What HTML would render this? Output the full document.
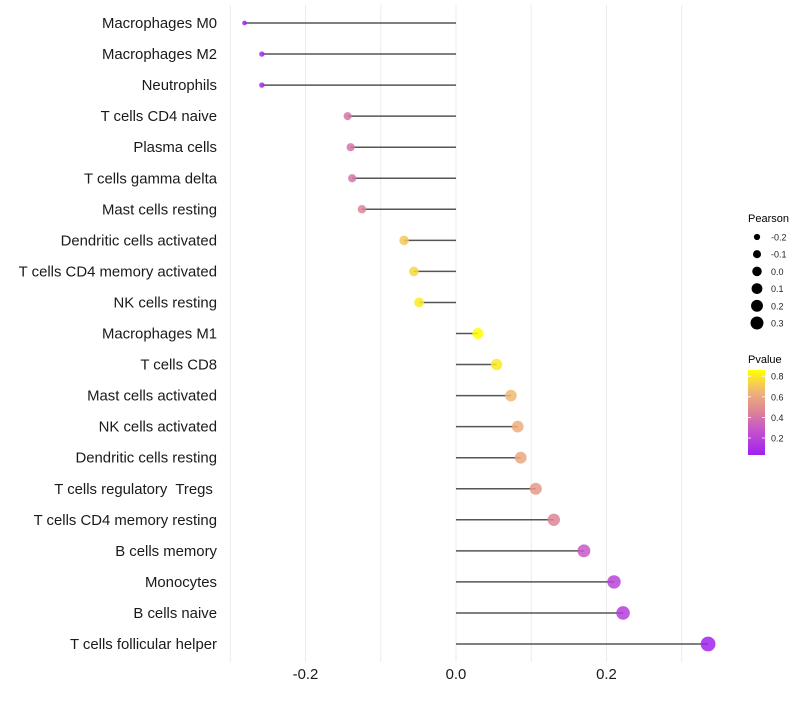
<!DOCTYPE html>
<html><head><meta charset="utf-8"><style>
body{margin:0;background:#fff;font-family:"Liberation Sans",sans-serif}
svg text{font-family:"Liberation Sans",sans-serif;white-space:pre}
</style></head><body>
<svg id="chart" width="800" height="700"></svg>
<script>
const categories=["Macrophages M0","Macrophages M2","Neutrophils","T cells CD4 naive","Plasma cells","T cells gamma delta","Mast cells resting","Dendritic cells activated","T cells CD4 memory activated","NK cells resting","Macrophages M1","T cells CD8","Mast cells activated","NK cells activated","Dendritic cells resting","T cells regulatory  Tregs ","T cells CD4 memory resting","B cells memory","Monocytes","B cells naive","T cells follicular helper"];
const pearson=[-0.281,-0.258,-0.258,-0.144,-0.140,-0.138,-0.125,-0.069,-0.056,-0.049,0.029,0.054,0.073,0.082,0.086,0.106,0.130,0.170,0.210,0.222,0.335];
const pvalue=[0.04,0.08,0.08,0.40,0.40,0.40,0.46,0.70,0.75,0.80,0.87,0.80,0.66,0.62,0.60,0.54,0.46,0.30,0.20,0.17,0.05];
const xTicks=[-0.2,0,0.2];
const xTickLabels=["-0.2","0.0","0.2"];
const gridVals=[-0.3,-0.2,-0.1,0,0.1,0.2,0.3];
const sizeLegend=[-0.2,-0.1,0.0,0.1,0.2,0.3];
const sizeLegendLabels=["-0.2","-0.1","0.0","0.1","0.2","0.3"];
const pLegend=[0.8,0.6,0.4,0.2];

const NS="http://www.w3.org/2000/svg";
const svg=document.getElementById('chart');
const x=v=>456+v*752.5;
const y=i=>23+i*31.05;
const r=v=>Math.sqrt(Math.max(1,28+80*v));
const stops=[[0.035,[160,32,240]],[0.3,[200,90,200]],[0.45,[220,130,150]],[0.65,[240,180,120]],[0.86,[255,255,0]]];
function col(p){
  if(p<=stops[0][0])return `rgb(${stops[0][1]})`;
  for(let k=1;k<stops.length;k++){if(p<=stops[k][0]){const t=(p-stops[k-1][0])/(stops[k][0]-stops[k-1][0]);const a=stops[k-1][1],b=stops[k][1];return `rgb(${a.map((c,j)=>Math.round(c+(b[j]-c)*t)).join(',')})`;}}
  return `rgb(${stops[stops.length-1][1]})`;
}
function el(tag,attrs,parent){const e=document.createElementNS(NS,tag);for(const k in attrs)e.setAttribute(k,attrs[k]);(parent||svg).appendChild(e);return e;}

gridVals.forEach(v=>{
  const g=el('line',{x1:x(v),x2:x(v),y1:5,y2:662,stroke:'#ebebeb','stroke-width':1});
  
  
});
categories.forEach((c,i)=>{
  const t=el('text',{x:217,y:y(i)+5,'text-anchor':'end','font-size':14.9,fill:'#1a1a1a'});
  t.textContent=c;
  
  
  const ln=el('line',{x1:x(0),x2:x(pearson[i]),y1:y(i),y2:y(i),stroke:'#555','stroke-width':1.5});
  
  
  const pt=el('circle',{cx:x(pearson[i]),cy:y(i),r:r(pearson[i]),fill:col(pvalue[i]),'fill-opacity':0.85});
  
  
});
xTicks.forEach((v,k)=>{
  const t=el('text',{x:x(v),y:679,'text-anchor':'middle','font-size':14.9,fill:'#1a1a1a'});
  t.textContent=xTickLabels[k];
  
  
});
const lt=el('text',{x:748,y:222,'font-size':11,fill:'#000'});lt.textContent='Pearson';


sizeLegend.forEach((v,k)=>{
  const cy=237+k*17.2;
  const c=el('circle',{cx:757,cy:cy,r:r(v)*0.9,fill:'#000'});
  
  
  const t=el('text',{x:771,y:cy+3.5,'font-size':9,fill:'#222'});t.textContent=sizeLegendLabels[k];
  
  
});
const pt=el('text',{x:748,y:363,'font-size':11,fill:'#000'});pt.textContent='Pvalue';


const defs=el('defs',{});
const lg=el('linearGradient',{id:'pg',x1:0,y1:1,x2:0,y2:0},defs);
for(let k=0;k<=20;k++){const p=0.035+(0.86-0.035)*k/20;el('stop',{offset:k/20,'stop-color':col(p)},lg);}
const bar=el('rect',{x:748,y:370,width:17,height:85,fill:'url(#pg)'});


const py=p=>455-(p-0.035)/(0.86-0.035)*85;
pLegend.forEach(p=>{
  el('line',{x1:748,x2:751,y1:py(p),y2:py(p),stroke:'#fff','stroke-width':0.8});
  el('line',{x1:762,x2:765,y1:py(p),y2:py(p),stroke:'#fff','stroke-width':0.8});
  const t=el('text',{x:771,y:py(p)+3.5,'font-size':9,fill:'#222'});t.textContent=p.toFixed(1);
  
  
});
</script>
</body></html>
